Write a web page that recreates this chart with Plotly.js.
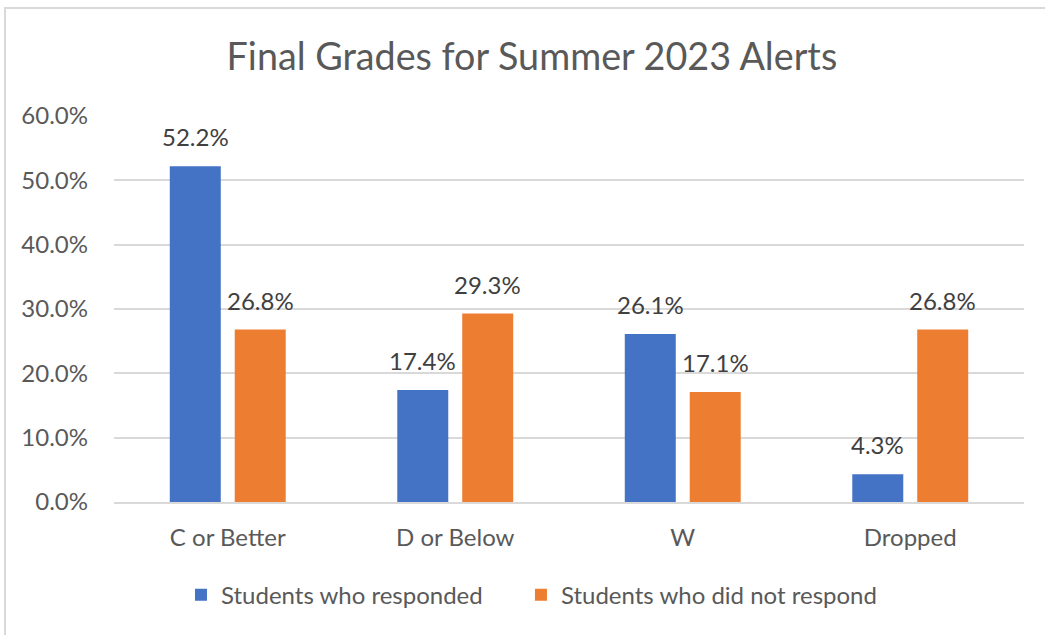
<!DOCTYPE html>
<html>
<head>
<meta charset="utf-8">
<script src="https://cdn.plot.ly/plotly-3.0.1.min.js"></script>
<style>
html,body{margin:0;padding:0;background:#fff;}
#wrap{position:relative;width:1045px;height:635px;overflow:hidden;}
#frame{position:absolute;left:4px;top:7px;width:1100px;height:700px;border:2px solid #d9d9d9;box-sizing:border-box;pointer-events:none;}
#chart{position:absolute;left:0;top:0;width:1045px;height:635px;}
</style>
</head>
<body>
<div id="wrap">
<div id="chart"></div>
<div id="frame"></div>
</div>
<script>
const categories = ["C or Better", "D or Below", "W", "Dropped"];
const responded = [52.2, 17.4, 26.1, 4.3];
const notResponded = [26.8, 29.3, 17.1, 26.8];
const seriesNames = ["Students who responded", "Students who did not respond"];
const tickVals = [0, 10, 20, 30, 40, 50, 60];
const tickText = ["0.0%", "10.0%", "20.0%", "30.0%", "40.0%", "50.0%", "60.0%"];

const fontFam = "Lato, Open Sans, sans-serif";
const colors = ["#4472c4", "#ed7d31"];
const mk = (name, y, color, lg) => ({
  type: "bar", name: name, x: categories, y: y,
  marker: {color: color}, legend: lg,
  hoverinfo: "none"
});
const data = [mk(seriesNames[0], responded, colors[0], "legend"), mk(seriesNames[1], notResponded, colors[1], "legend2")];

const annotations = [];
[responded, notResponded].forEach((arr, si) => {
  arr.forEach((v, i) => {
    annotations.push({
      x: categories[i], y: v, xref: "x", yref: "y",
      text: v.toFixed(1) + "%", showarrow: false,
      xanchor: "center", yanchor: "bottom",
      xshift: si === 0 ? -32.5 : 32.5, yshift: 13,
      font: {family: fontFam, size: 24, color: "#404040"}
    });
  });
});

const legendBase = {orientation: "h", yanchor: "middle", y: -0.241, xanchor: "left",
  font: {family: fontFam, size: 24, color: "#595959"}, itemwidth: 30, bgcolor: "rgba(0,0,0,0)"};

const layout = {
  width: 1045, height: 635,
  margin: {l: 114, r: 21, t: 116, b: 133},
  paper_bgcolor: "rgba(0,0,0,0)", plot_bgcolor: "rgba(0,0,0,0)",
  title: {text: "Final Grades for Summer 2023 Alerts", x: 0.509, xanchor: "center", y: 0.91, yanchor: "middle",
    font: {family: fontFam, size: 37.7, color: "#595959"}},
  barmode: "group", bargap: 0.429, bargroupgap: 0.215,
  xaxis: {showgrid: false, showline: true, linecolor: "#d9d9d9", linewidth: 2, ticks: "",
    tickfont: {family: fontFam, size: 24, color: "#595959"}, ticklabelstandoff: 13},
  yaxis: {range: [0, 60], tickvals: tickVals, ticktext: tickText, showgrid: true, gridcolor: "#d9d9d9", gridwidth: 2,
    zeroline: false, showline: false, ticks: "", ticklabelstandoff: 25,
    tickfont: {family: fontFam, size: 24, color: "#595959"}},
  annotations: annotations,
  showlegend: true,
  legend: Object.assign({}, legendBase, {x: 0.0736}),
  legend2: Object.assign({}, legendBase, {x: 0.4472})
};
Plotly.newPlot("chart", data, layout, {displayModeBar: false, staticPlot: true});
</script>
</body>
</html>
